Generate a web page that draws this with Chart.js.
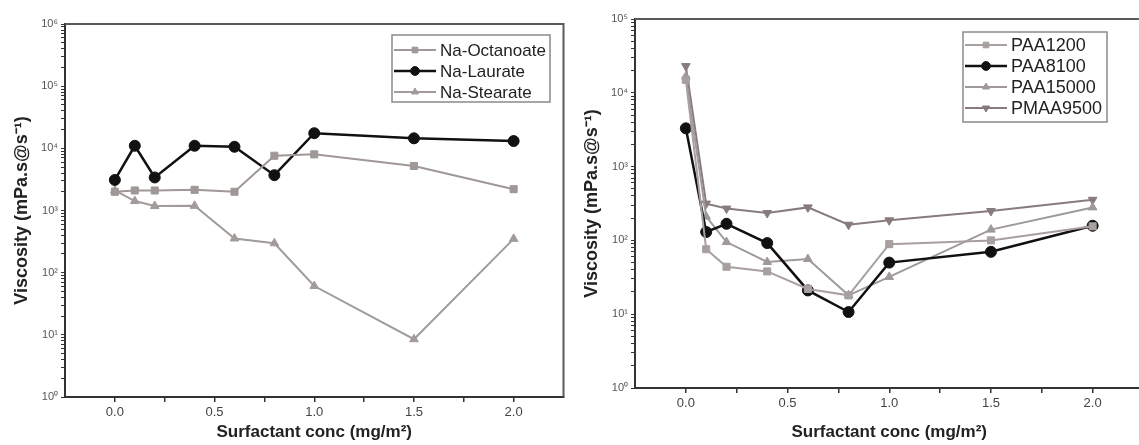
<!DOCTYPE html>
<html>
<head>
<meta charset="utf-8">
<script src="https://cdn.jsdelivr.net/npm/chart.js@4/dist/chart.umd.min.js"></script>
<style>
    html, body { margin: 0; padding: 0; background: #fff; overflow: hidden; }
    body { width: 1139px; height: 445px; position: relative; }
    canvas { position: absolute; top: 0; }
    #leftChart { left: 0; }
    #rightChart { left: 570px; }
</style>
</head>
<body>
<canvas id="leftChart" width="570" height="445"></canvas>
<canvas id="rightChart" width="580" height="445"></canvas>
<script>
// concentraciones (mg/m2)
const concValues = [0, 0.1, 0.2, 0.4, 0.6, 0.8, 1.0, 1.5, 2.0];

// panel izquierdo: tensioactivos
const octanoate = [2000, 2100, 2100, 2150, 2000, 7600, 8000, 5200, 2200];
const laurate = [3100, 11000, 3400, 11000, 10600, 3700, 17500, 14500, 13100];
const stearate = [2100, 1420, 1180, 1190, 355, 297, 61, 8.5, 350];

// panel derecho: polímeros
const paa1200 = [15000, 76, 44, 38, 22, 18, 89, 100, 155];
const paa8100 = [3300, 130, 168, 92, 21, 10.7, 50, 70, 158];
const paa15000 = [16600, 210, 95, 51, 56, 18, 32, 140, 280];
const pmaa9500 = [23000, 315, 270, 235, 280, 163, 187, 250, 355];

// ejes
const xMajorTicks = [0, 0.5, 1.0, 1.5, 2.0];
const xTickLabels = ['0.0', '0.5', '1.0', '1.5', '2.0'];
const leftDecades = [1, 10, 100, 1000, 10000, 100000, 1000000];
const leftDecadeLabels = ['10⁰', '10¹', '10²', '10³', '10⁴', '10⁵', '10⁶'];
const rightDecades = [1, 10, 100, 1000, 10000, 100000];
const rightDecadeLabels = ['10⁰', '10¹', '10²', '10³', '10⁴', '10⁵'];

Chart.defaults.font.family = "'Liberation Sans', Arial, sans-serif";
Chart.defaults.animation = false;

function toPoints(ys) {
    return concValues.map((x, i) => ({ x: x, y: ys[i] }));
}

function serie(label, ys, color, style, radius, width, rotation) {
    return {
        label: label,
        data: toPoints(ys),
        borderColor: color,
        backgroundColor: color,
        borderWidth: width,
        pointStyle: style,
        pointRadius: radius,
        pointRotation: rotation || 0,
        pointBorderWidth: 1,
        tension: 0
    };
}

// marco superior/derecho y leyenda con recuadro
const frameAndLegend = {
    id: 'frameAndLegend',
    afterDatasetsDraw(chart, args, opts) {
        const ctx = chart.ctx;
        const a = chart.chartArea;
        ctx.save();
        ctx.strokeStyle = '#5a5a5a';
        ctx.lineWidth = 2;
        ctx.beginPath();
        ctx.moveTo(a.left, a.top);
        ctx.lineTo(a.right, a.top);
        ctx.lineTo(a.right, a.bottom);
        ctx.stroke();

        const b = opts.box;
        ctx.fillStyle = '#fff';
        ctx.fillRect(b.x, b.y, b.w, b.h);
        ctx.strokeStyle = '#8a8a8a';
        ctx.lineWidth = 1.5;
        ctx.strokeRect(b.x, b.y, b.w, b.h);

        ctx.font = opts.fontSize + "px 'Liberation Sans', Arial, sans-serif";
        ctx.textBaseline = 'middle';
        chart.data.datasets.forEach((ds, i) => {
            const y = b.y + opts.firstRow + i * opts.rowGap;
            ctx.strokeStyle = ds.borderColor;
            ctx.lineWidth = ds.borderWidth;
            ctx.beginPath();
            ctx.moveTo(b.x + 2, y);
            ctx.lineTo(b.x + 44, y);
            ctx.stroke();
            ctx.fillStyle = ds.backgroundColor;
            ctx.lineWidth = 1;
            Chart.helpers.drawPoint(ctx, {
                pointStyle: ds.pointStyle,
                rotation: ds.pointRotation,
                radius: ds.pointRadius * 0.8,
                borderWidth: 1
            }, b.x + 23, y);
            ctx.fillStyle = '#222';
            ctx.fillText(ds.label, b.x + 48, y + 1);
        });
        ctx.restore();
    }
};

function makeOptions(decades, decadeLabels, axisW, axisH, pad, legendOpts) {
    return {
        responsive: false,
        layout: { padding: pad },
        plugins: {
            legend: { display: false },
            tooltip: { enabled: false },
            frameAndLegend: legendOpts
        },
        scales: {
            x: {
                type: 'linear',
                min: -0.25,
                max: 2.25,
                afterBuildTicks: (scale) => {
                    const t = [];
                    xMajorTicks.forEach((v, i) => {
                        t.push({ value: v, major: true });
                        if (i < xMajorTicks.length - 1) t.push({ value: v + 0.25, major: false });
                    });
                    scale.ticks = t;
                },
                afterFit: (scale) => { scale.height = axisH; },
                grid: { display: true, drawOnChartArea: false, drawTicks: true, tickLength: 5, color: '#333', lineWidth: 1.5 },
                border: { display: true, color: '#333', width: 2 },
                ticks: {
                    autoSkip: false,
                    maxRotation: 0,
                    padding: 3,
                    color: '#444',
                    font: { size: 13 },
                    callback: (value) => {
                        const i = xMajorTicks.indexOf(value);
                        return i >= 0 ? xTickLabels[i] : '';
                    }
                },
                title: {
                    display: true,
                    text: 'Surfactant conc (mg/m²)',
                    color: '#222',
                    font: { size: 17, weight: 'bold' },
                    padding: { top: 0, bottom: 2 }
                }
            },
            y: {
                type: 'logarithmic',
                min: decades[0],
                max: decades[decades.length - 1],
                afterBuildTicks: (scale) => {
                    const t = [];
                    decades.forEach((d, i) => {
                        t.push({ value: d, major: true });
                        if (i < decades.length - 1) {
                            for (let m = 2; m <= 9; m++) t.push({ value: m * d, major: false });
                        }
                    });
                    scale.ticks = t;
                },
                afterFit: (scale) => { scale.width = axisW; },
                grid: { display: true, drawOnChartArea: false, drawTicks: true, tickLength: 4, color: '#333', lineWidth: 1 },
                border: { display: true, color: '#333', width: 2 },
                ticks: {
                    autoSkip: false,
                    padding: 3,
                    color: '#555',
                    font: { size: 11 },
                    callback: (value) => {
                        const i = decades.indexOf(value);
                        return i >= 0 ? decadeLabels[i] : '';
                    }
                },
                title: {
                    display: true,
                    text: 'Viscosity (mPa.s@s⁻¹)',
                    color: '#222',
                    font: { size: 18, weight: 'bold' },
                    padding: { top: 11, bottom: 0 }
                }
            }
        }
    };
}

new Chart(document.getElementById('leftChart').getContext('2d'), {
    type: 'line',
    data: {
        datasets: [
            serie('Na-Octanoate', octanoate, '#a09797', 'rect', 5, 2),
            serie('Na-Laurate', laurate, '#111111', 'circle', 5.5, 2.5),
            serie('Na-Stearate', stearate, '#a19b99', 'triangle', 5, 2)
        ]
    },
    options: makeOptions(leftDecades, leftDecadeLabels, 65, 48,
        { top: 24, right: 5, left: 0, bottom: 0 },
        { box: { x: 392, y: 35, w: 158, h: 67 }, firstRow: 15, rowGap: 21, fontSize: 17 }),
    plugins: [frameAndLegend]
});

new Chart(document.getElementById('rightChart').getContext('2d'), {
    type: 'line',
    data: {
        datasets: [
            serie('PAA1200', paa1200, '#a89f9f', 'rect', 5, 2),
            serie('PAA8100', paa8100, '#111111', 'circle', 5.5, 2.5),
            serie('PAA15000', paa15000, '#9f9999', 'triangle', 5, 2),
            serie('PMAA9500', pmaa9500, '#877b7c', 'triangle', 5, 2, 180)
        ]
    },
    options: makeOptions(rightDecades, rightDecadeLabels, 65, 57,
        { top: 19, right: 6, left: 0, bottom: 0 },
        { box: { x: 393, y: 32, w: 144, h: 90 }, firstRow: 13, rowGap: 21, fontSize: 18 }),
    plugins: [frameAndLegend]
});
</script>
</body>
</html>
